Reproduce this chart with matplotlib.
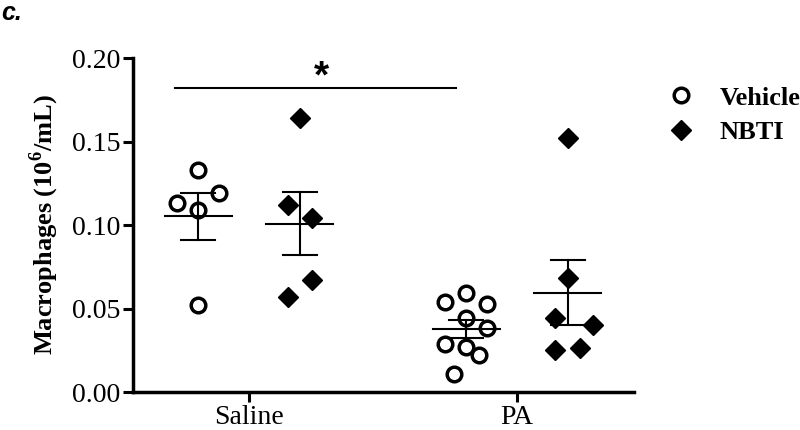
import matplotlib
matplotlib.use("Agg")
import matplotlib.pyplot as plt
import numpy as np
from matplotlib.lines import Line2D

groups = ["Saline", "PA"]
treatments = ["Vehicle", "NBTI"]

saline_vehicle = [0.133, 0.113, 0.119, 0.109, 0.052]
saline_nbti = [0.164, 0.112, 0.104, 0.067, 0.057]
pa_vehicle = [0.0536, 0.059, 0.0524, 0.0446, 0.0386, 0.0289, 0.0271, 0.0223, 0.0108]
pa_nbti = [0.152, 0.068, 0.0446, 0.0404, 0.0253, 0.0265]

# horizontal scatter offsets (x units) of each point within its column
saline_vehicle_jit = [0.0, -0.078, 0.078, 0.0, 0.0]
saline_nbti_jit = [0.0, -0.045, 0.045, 0.045, -0.045]
pa_vehicle_jit = [-0.078, 0.0, 0.078, 0.0, 0.078, -0.078, 0.0, 0.048, -0.045]
pa_nbti_jit = [0.0, 0.0, -0.048, 0.093, -0.048, 0.045]

sig_text = "*"

plt.rcParams['font.family'] = ['Liberation Serif', 'DejaVu Serif']
plt.rcParams['mathtext.fontset'] = 'custom'
plt.rcParams['mathtext.bf'] = 'Liberation Serif:bold'
plt.rcParams['mathtext.rm'] = 'Liberation Serif'

fig = plt.figure(figsize=(8, 4.3), dpi=100)
ax = fig.add_axes([133/800, 1-392/430, (634-133)/800, (392-58)/430])

series = [
    (1, -0.19, saline_vehicle, saline_vehicle_jit, 'o'),
    (1, 0.19, saline_nbti, saline_nbti_jit, 'D'),
    (2, -0.19, pa_vehicle, pa_vehicle_jit, 'o'),
    (2, 0.19, pa_nbti, pa_nbti_jit, 'D'),
]

for gx, off, vals, jit, mk in series:
    vals = np.array(vals)
    xs = gx + off + np.array(jit)
    if mk == 'o':
        ax.plot(xs, vals, 'o', ms=10.5, mfc='white', mec='black', mew=2.5, ls='none', zorder=3)
    else:
        ax.plot(xs, vals, 'D', ms=10, mfc='black', mec='black', ls='none', zorder=3)
    m = vals.mean()
    sem = vals.std(ddof=1) / np.sqrt(len(vals))
    c = gx + off
    ax.plot([c - 0.125, c + 0.125], [m, m], color='black', lw=1.5, zorder=4)
    ax.plot([c, c], [m - sem, m + sem], color='black', lw=1.5, zorder=4)
    for yv in (m - sem, m + sem):
        ax.plot([c - 0.064, c + 0.064], [yv, yv], color='black', lw=1.5, zorder=4)

# significance bar
ax.plot([0.724, 1.772], [0.182, 0.182], color='black', lw=1.5)
ax.text(1.27, 0.1885, sig_text, ha='center', va='center', fontsize=28,
        fontweight='bold', family=['Liberation Sans', 'DejaVu Sans'])

ax.set_xlim(0.567, 2.437)
ax.set_ylim(0, 0.2)
ax.set_xticks([1, 2])
ax.set_xticklabels(groups)
ax.set_yticks([0, 0.05, 0.10, 0.15, 0.20])
ax.set_yticklabels(["0.00", "0.05", "0.10", "0.15", "0.20"])
ax.tick_params(axis='both', direction='out', length=7, width=2.2, labelsize=20, pad=2)
for s in ['top', 'right']:
    ax.spines[s].set_visible(False)
for s in ['left', 'bottom']:
    ax.spines[s].set_linewidth(2.5)
ax.spines['left'].set_bounds(0, 0.2)

ax.set_ylabel("Macrophages (10$^{\\mathbf{6}}$/mL)", fontsize=19, fontweight='bold', labelpad=8)

handles = [
    Line2D([], [], marker='o', ls='none', ms=10.5, mfc='white', mec='black', mew=2.5),
    Line2D([], [], marker='D', ls='none', ms=10, mfc='black', mec='black'),
]
leg = fig.legend(handles, treatments, loc='upper left', bbox_to_anchor=(652/800, 1-73/430),
                 frameon=False, prop={'family': 'Liberation Serif', 'weight': 'bold', 'size': 19},
                 handletextpad=0.85, labelspacing=0.42, handlelength=1.2, borderpad=0)

fig.text(0.002, 0.997, "c.", ha='left', va='top', fontsize=18, fontweight='bold',
         fontstyle='italic', family=['Liberation Sans', 'DejaVu Sans'])

fig.savefig("out.png", dpi=100)
